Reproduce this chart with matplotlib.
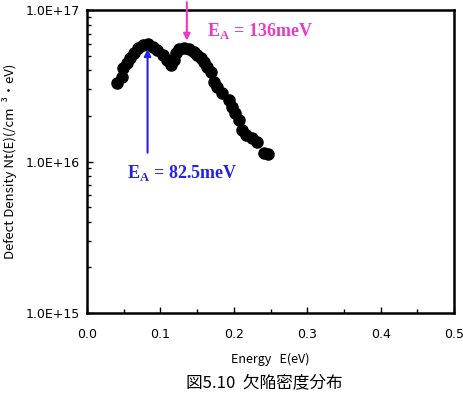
import numpy as np
import matplotlib
matplotlib.use('Agg')
import matplotlib.pyplot as plt
import matplotlib.ticker as plticker

# defect density distribution
energy = [0.041, 0.047, 0.049, 0.054, 0.058, 0.064, 0.069, 0.076, 0.083, 0.090,
          0.096, 0.103, 0.109, 0.114, 0.118, 0.121, 0.126, 0.132, 0.139, 0.146,
          0.150, 0.155, 0.159, 0.164, 0.169, 0.173, 0.177, 0.184, 0.193, 0.198,
          0.202, 0.207, 0.211, 0.216, 0.225, 0.231, 0.241, 0.247]
log_nt = [16.52, 16.556, 16.615, 16.648, 16.681, 16.718, 16.747, 16.769, 16.776, 16.758,
          16.736, 16.703, 16.670, 16.637, 16.670, 16.718, 16.741, 16.747, 16.741, 16.725,
          16.703, 16.681, 16.659, 16.626, 16.593, 16.527, 16.490, 16.450, 16.406, 16.362,
          16.318, 16.274, 16.208, 16.175, 16.153, 16.131, 16.058, 16.050]
density = [10 ** v for v in log_nt]

peak1 = 0.0825
peak2 = 0.136
ytick_vals = [1e15, 1e16, 1e17]
ytick_labels = ['1.0E+15', '1.0E+16', '1.0E+17']
xtick_vals = [0.0, 0.1, 0.2, 0.3, 0.4, 0.5]

plt.rcParams['mathtext.fontset'] = 'custom'
plt.rcParams['mathtext.rm'] = 'Liberation Serif:bold'
cjk = ['Noto Sans CJK JP', 'DejaVu Sans']

fig = plt.figure(figsize=(4.64, 4.08), dpi=100)
ax = fig.add_axes([0.1875, 0.2328, 0.791, 0.7426])

ax.plot(energy, density, 'o', color='k', markersize=8, clip_on=False)

ax.set_yscale('log')
ax.set_ylim(1e15, 1e17)
ax.set_xlim(0.0, 0.5)
ax.set_yticks(ytick_vals)
ax.set_yticklabels(ytick_labels)
ax.yaxis.set_minor_locator(plticker.LogLocator(base=10, subs=np.arange(2, 10)))
ax.yaxis.set_minor_formatter(plticker.NullFormatter())
ax.set_xticks(xtick_vals)
ax.set_xticklabels(['%.1f' % v for v in xtick_vals])
ax.xaxis.set_minor_locator(plticker.MultipleLocator(0.05))

ax.tick_params(which='both', direction='in', labelsize=9)
ax.tick_params(axis='x', pad=11)
ax.tick_params(axis='y', pad=5)
ax.tick_params(which='major', length=4, width=1)
ax.tick_params(which='minor', length=3, width=1)
for sp in ax.spines.values():
    sp.set_linewidth(1.8)

ax.set_xlabel('Energy   E(eV)', fontsize=9, family=cjk, labelpad=8)
ax.set_ylabel('Defect Density Nt(E)(/cm  \u00b3\u30fbeV)', fontsize=9.5, family=cjk, labelpad=6)

# arrows and labels
ax.annotate('', xy=(peak1, 10 ** 16.76), xytext=(peak1, 10 ** 16.04),
            arrowprops=dict(arrowstyle='-|>', color='#2323e6', lw=1.5, mutation_scale=10))
ax.text(0.054, 10 ** 15.89, 'E$_{\\mathrm{A}}$ = 82.5meV', color='#2323e6',
        fontsize=13, family='Liberation Serif', weight='bold')
ax.annotate('', xy=(peak2, 10 ** 16.78), xytext=(peak2, 10 ** 17.07),
            arrowprops=dict(arrowstyle='-|>', color='#e43cc4', lw=1.5, mutation_scale=10),
            annotation_clip=False)
ax.text(0.163, 10 ** 16.83, 'E$_{\\mathrm{A}}$ = 136meV', color='#e43cc4',
        fontsize=13, family='Liberation Serif', weight='bold')

fig.text(0.57, 0.063, '図5.10  欠陥密度分布', fontsize=12, family=cjk, ha='center', va='center')

fig.savefig('out.png', dpi=100)
